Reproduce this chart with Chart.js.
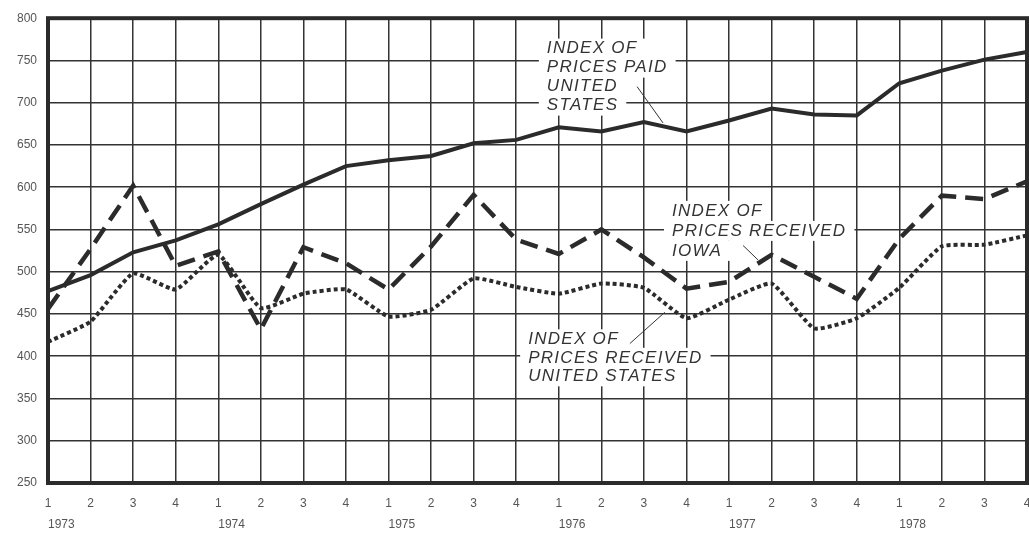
<!DOCTYPE html>
<html>
	<head>
		<title>Price indexes 1973-1978</title>
		<style>
body {
	margin: 0;
	background-color: #ffffff;
}
.wrap {
	position: relative;
	width: 1029px;
	height: 533px;
}
		</style>
	</head>
	<body>
		<div class="wrap">
			<canvas id="lineGraph"></canvas>
		</div>

		<script src="https://cdn.jsdelivr.net/npm/chart.js"></script>
		<script>
			// quarters 1973 Q1 .. 1978 Q4
			const quarters = ['1','2','3','4','1','2','3','4','1','2','3','4','1','2','3','4','1','2','3','4','1','2','3','4'];
			const years = ['1973','','','','1974','','','','1975','','','','1976','','','','1977','','','','1978','','',''];

			const paidUS = [477, 496, 523, 537, 556, 580, 603, 625, 632, 637, 652, 656, 671, 666, 677, 666, 679, 693, 686, 685, 723, 738, 751, 760];
			const receivedIowa = [456, 527, 602, 507, 524, 432, 529, 510, 479, 530, 591, 538, 521, 550, 517, 480, 488, 520, 494, 468, 539, 590, 586, 607];
			const receivedUS = [417, 441, 498, 479, 520, 457, 474, 479, 447, 455, 492, 482, 474, 486, 481, 445, 467, 486, 433, 445, 481, 530, 532, 543];

			const ink = '#2b2b2b';

			// callout texts, anchored in data units (quarter index, index value)
			const notes = [
				{ lines: ['INDEX OF', 'PRICES PAID', 'UNITED', 'STATES'], at: [11.72, 764], step: 19,
					leader: [[13.84, 719], [14.45, 676]] },
				{ lines: ['INDEX OF', 'PRICES RECEIVED', 'IOWA'], at: [14.66, 572], step: 20,
					leader: [[16.33, 531], [16.68, 514]] },
				{ lines: ['INDEX OF', 'PRICES RECEIVED', 'UNITED STATES'], at: [11.28, 420], step: 18.5,
					leader: [[13.67, 415], [14.49, 452]] }
			];

			const frameAndNotes = {
				id: 'frameAndNotes',
				beforeDatasetsDraw(chart) {
					const ctx = chart.ctx;
					const a = chart.chartArea;
					const xs = chart.scales.x;
					const ys = chart.scales.y;
					ctx.save();
					ctx.strokeStyle = ink;
					ctx.lineWidth = 4;
					ctx.strokeRect(a.left, a.top, a.right - a.left, a.bottom - a.top);

					ctx.font = 'italic 17px "Liberation Sans", Arial, sans-serif';
					ctx.letterSpacing = '1.3px';
					ctx.textBaseline = 'middle';
					ctx.textAlign = 'left';
					notes.forEach(n => {
						const x0 = xs.getPixelForValue(n.at[0]);
						const y0 = ys.getPixelForValue(n.at[1]);
						n.lines.forEach((t, i) => {
							const w = ctx.measureText(t).width;
							const y = y0 + i * n.step;
							ctx.fillStyle = '#ffffff';
							ctx.fillRect(x0 - 8, y - 10, w + 16, 20);
						});
						ctx.fillStyle = '#333333';
						n.lines.forEach((t, i) => {
							ctx.fillText(t, x0, y0 + i * n.step);
						});
						ctx.beginPath();
						ctx.lineWidth = 1;
						ctx.strokeStyle = '#333333';
						ctx.moveTo(xs.getPixelForValue(n.leader[0][0]), ys.getPixelForValue(n.leader[0][1]));
						ctx.lineTo(xs.getPixelForValue(n.leader[1][0]), ys.getPixelForValue(n.leader[1][1]));
						ctx.stroke();
					});
					ctx.restore();
				}
			};

			const tickFont = { family: '"Liberation Sans", Arial, sans-serif', size: 12 };

			const ctx = document.getElementById('lineGraph').getContext('2d');
			const myLineChart = new Chart(ctx, {
				type: 'line',
				data: {
					labels: quarters,
					datasets: [{
						label: 'Index of prices paid, United States',
						data: paidUS,
						borderColor: ink,
						borderWidth: 4,
						tension: 0
					},
						{
							label: 'Index of prices received, Iowa',
							data: receivedIowa,
							borderColor: ink,
							borderWidth: 4.5,
							borderDash: [18, 9],
							tension: 0
						},
						{
							label: 'Index of prices received, United States',
							data: receivedUS,
							borderColor: ink,
							borderWidth: 4,
							borderDash: [4, 3],
							tension: 0.15
						}]
				},
				options: {
					responsive: true,
					maintainAspectRatio: false,
					animation: false,
					layout: { padding: { top: 14, right: 2, left: 0, bottom: 0 } },
					elements: { point: { radius: 0 } },
					plugins: {
						legend: { display: false },
						tooltip: { enabled: false }
					},
					scales: {
						x: {
							type: 'category',
							offset: false,
							grid: { color: '#333333', lineWidth: 1.5, drawTicks: false },
							border: { display: false },
							ticks: { autoSkip: false, maxRotation: 0, padding: 13, color: '#555555', font: tickFont },
							afterFit(scale) {
								scale.height = 28;
								scale.paddingLeft = 0;
								scale.paddingRight = 0;
							}
						},
						x2: {
							type: 'category',
							labels: years,
							position: 'bottom',
							offset: false,
							grid: { display: false, drawTicks: false },
							border: { display: false },
							ticks: { autoSkip: false, maxRotation: 0, align: 'start', padding: 6, color: '#555555', font: tickFont },
							afterFit(scale) {
								scale.height = 22;
								scale.paddingLeft = 0;
								scale.paddingRight = 0;
							}
						},
						y: {
							min: 250,
							max: 800,
							grid: { color: '#333333', lineWidth: 1.5, drawTicks: false },
							border: { display: false },
							ticks: { stepSize: 50, padding: 11, color: '#555555', font: tickFont },
							afterFit(scale) { scale.width = 48; }
						}
					}
				},
				plugins: [frameAndNotes]
			});
		</script>

	</body>
</html>
